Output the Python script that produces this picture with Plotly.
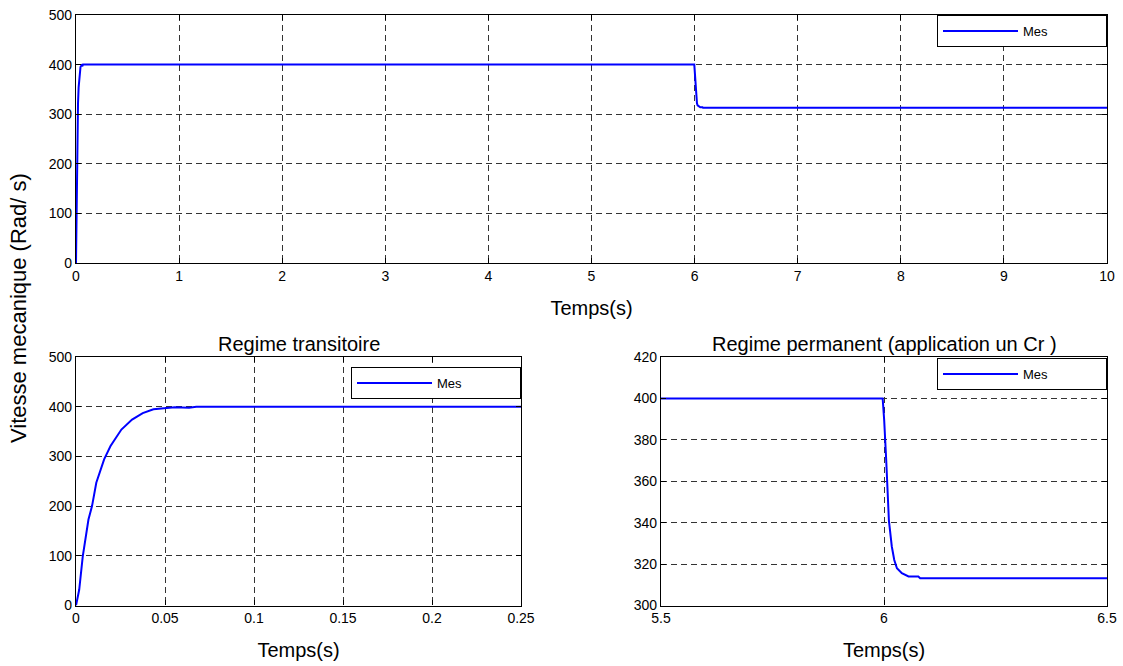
import plotly.graph_objects as go

# ---- data ----
time_s = [0, 0.0018, 0.0038, 0.007, 0.009, 0.0114, 0.0158, 0.0194, 0.0255,
          0.0315, 0.0375, 0.0435, 0.0495, 0.0555, 0.0635, 0.0676,
          5.997, 6.0004, 6.005, 6.011, 6.0175, 6.023, 6.029, 6.040,
          6.055, 6.077, 6.081, 10.0]
speed_rad_s = [0, 31.6, 99, 173, 200, 247, 294, 321, 354,
               374, 387, 395, 397, 399, 398, 400,
               400, 389.5, 370, 341, 328.5, 322, 318, 315.6,
               314, 314, 313.2, 313.2]

series_name = "Mes"
top_xticks = list(range(0, 11))
top_yticks = [0, 100, 200, 300, 400, 500]
trans_xticks = [0, 0.05, 0.1, 0.15, 0.2, 0.25]
trans_xlabels = ["0", "0.05", "0.1", "0.15", "0.2", "0.25"]
perm_xticks = [5.5, 6, 6.5]
perm_xlabels = ["5.5", "6", "6.5"]
perm_yticks = [300, 320, 340, 360, 380, 400, 420]

title_trans = "Regime transitoire"
title_perm = "Regime permanent (application un Cr )"
xlabel = "Temps(s)"
ylabel = "Vitesse mecanique (Rad/ s)"

# ---- layout geometry ----
W, H = 1123, 666
def px(x): return x / W
def py(y): return 1 - y / H

FONT = "Liberation Sans, Arial, sans-serif"
BLUE = "#0000FF"

fig = go.Figure()
for xa, ya, lg in [("x", "y", "legend"), ("x2", "y2", "legend2"), ("x3", "y3", "legend3")]:
    fig.add_trace(go.Scatter(x=time_s, y=speed_rad_s, mode="lines", name=series_name,
                             line=dict(color=BLUE, width=2), xaxis=xa, yaxis=ya,
                             legend=lg, showlegend=True))

axis_common = dict(showline=True, mirror="ticks", linecolor="black", linewidth=1.2,
                   ticks="inside", ticklen=5, tickcolor="black", showgrid=True,
                   gridcolor="#333333", gridwidth=1, griddash="6px,4px", zeroline=False,
                   automargin=False,
                   tickfont=dict(family=FONT, size=14, color="black"))

fig.update_layout(
    width=W, height=H, margin=dict(l=0, r=0, t=0, b=0, autoexpand=False),
    paper_bgcolor="white", plot_bgcolor="white",
    font=dict(family=FONT, color="black"),
    xaxis=dict(domain=[px(76), px(1107)], anchor="y", range=[0, 10], tickvals=top_xticks,
               title=dict(text=xlabel, font=dict(size=20), standoff=18), **axis_common),
    yaxis=dict(domain=[py(263), py(15)], anchor="x", range=[0, 500], tickvals=top_yticks,
               **axis_common),
    xaxis2=dict(domain=[px(76), px(521)], anchor="y2", range=[0, 0.25], tickvals=trans_xticks,
                ticktext=trans_xlabels,
                title=dict(text=xlabel, font=dict(size=20), standoff=17), **axis_common),
    yaxis2=dict(domain=[py(605.5), py(357)], anchor="x2", range=[0, 500], tickvals=top_yticks,
                **axis_common),
    xaxis3=dict(domain=[px(661), px(1107)], anchor="y3", range=[5.5, 6.5], tickvals=perm_xticks,
                ticktext=perm_xlabels,
                title=dict(text=xlabel, font=dict(size=20), standoff=17), **axis_common),
    yaxis3=dict(domain=[py(605.5), py(357)], anchor="x3", range=[300, 420], tickvals=perm_yticks,
                **axis_common),
)

legend_common = dict(xanchor="right", yanchor="top", bgcolor="white", bordercolor="black",
                     borderwidth=1, itemwidth=75, font=dict(family=FONT, size=13, color="black"),
                     orientation="h", entrywidth=78, entrywidthmode="pixels", tracegroupgap=0)
fig.update_layout(
    legend=dict(x=px(1107), y=py(15), **legend_common),
    legend2=dict(x=px(521), y=py(367), **legend_common),
    legend3=dict(x=px(1107), y=py(358), **legend_common),
)

fig.add_annotation(text=title_trans, xref="paper", yref="paper", x=px(298.5), y=py(344),
                   showarrow=False, xanchor="center", yanchor="middle",
                   font=dict(family=FONT, size=20, color="black"))
fig.add_annotation(text=title_perm, xref="paper", yref="paper", x=px(884), y=py(344),
                   showarrow=False, xanchor="center", yanchor="middle",
                   font=dict(family=FONT, size=20, color="black"))
fig.add_annotation(text=ylabel, xref="paper", yref="paper", x=px(18), y=py(308),
                   showarrow=False, xanchor="center", yanchor="middle", textangle=-90,
                   font=dict(family=FONT, size=22, color="black"))

fig.write_html("out.html")
